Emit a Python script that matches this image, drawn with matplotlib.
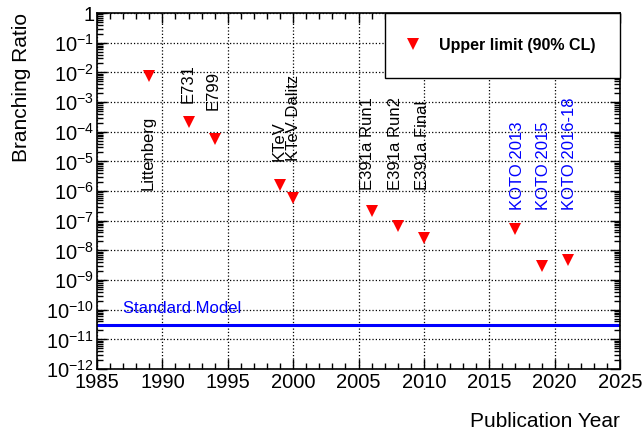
import numpy as np
import matplotlib
matplotlib.use("Agg")
import matplotlib.pyplot as plt
from matplotlib.ticker import FixedLocator, FuncFormatter, LogLocator, NullFormatter

plt.rcParams['font.family'] = ['Liberation Sans', 'DejaVu Sans']
plt.rcParams['mathtext.default'] = 'regular'

# upper limits on the branching ratio, by publication year
years = [1989, 1992, 1994, 1999, 2000, 2006, 2008, 2010, 2017, 2019, 2021]
limits = [7.6e-3, 2.2e-4, 5.8e-5, 1.6e-6, 5.9e-7, 2.1e-7, 6.7e-8, 2.6e-8, 5.1e-8, 3.0e-9, 4.9e-9]
names = ["Littenberg", "E731", "E799", "KTeV", "KTeV Dalitz",
         "E391a Run1", "E391a Run2", "E391a Final",
         "KOTO 2013", "KOTO 2015", "KOTO 2016-18"]
label_base = [1.1e-6, 9.5e-4, 5.4e-4, 1.0e-5, 1.0e-5,
              1.1e-6, 1.1e-6, 1.1e-6, 2.3e-7, 2.3e-7, 2.3e-7]
label_dx = [-0.1, 0.0, -0.1, -0.1, 0.0, -0.3, -0.2, -0.1, 0.15, 0.15, 0.15]
label_colors = ["black"] * 8 + ["blue"] * 3
sm_value = 3e-11

fig = plt.figure(figsize=(6.43, 4.32), dpi=100)
ax = fig.add_axes([0.1509, 0.1458, 0.8134, 0.824])

ax.plot(years, limits, linestyle='none', marker='v', color='red',
        markersize=8, markeredgewidth=0, label='Upper limit (90% CL)')
ax.axhline(sm_value, color='blue', linewidth=2.2)
ax.text(1987, 6.3e-11, "Standard Model", color='blue', fontsize=12, va='bottom')

for name, yr, yb, dx, col in zip(names, years, label_base, label_dx, label_colors):
    ax.text(yr + dx, yb, name, rotation=90, ha='center', va='bottom',
            fontsize=12, color=col)

ax.set_yscale('log')
ax.set_xlim(1985, 2025)
ax.set_ylim(1e-12, 1)

ax.xaxis.set_major_locator(FixedLocator(np.arange(1985, 2026, 5)))
ax.xaxis.set_minor_locator(FixedLocator(np.arange(1985, 2026, 1)))
ax.yaxis.set_major_locator(LogLocator(base=10, numticks=20))
ax.yaxis.set_minor_locator(LogLocator(base=10, subs=np.arange(2, 10), numticks=20))
ax.yaxis.set_minor_formatter(NullFormatter())


def fmt_log(v, pos):
    e = int(round(np.log10(v)))
    if e == 0:
        return "1"
    return r"$10^{%d}$" % e


ax.yaxis.set_major_formatter(FuncFormatter(fmt_log))

ax.tick_params(axis='both', which='both', direction='in', top=True, right=True,
               labelsize=14.5, width=1)
ax.tick_params(axis='both', which='major', length=7)
ax.tick_params(axis='both', which='minor', length=4)
ax.tick_params(axis='x', pad=3)
ax.tick_params(axis='y', pad=2)

ax.grid(True, which='major', linestyle=':', color='black', linewidth=0.9)
for s in ax.spines.values():
    s.set_linewidth(1.2)

ax.set_ylabel("Branching Ratio", fontsize=15, loc='top', labelpad=11)
ax.set_xlabel("Publication Year", fontsize=15, loc='right', labelpad=14)

leg = ax.legend(loc='upper right', bbox_to_anchor=(1.0, 1.0), borderaxespad=0,
                fancybox=False, edgecolor='black', framealpha=1,
                prop={'weight': 'bold', 'size': 11.5}, borderpad=1.55,
                handlelength=0.4, handletextpad=1.4, numpoints=1)
leg.get_frame().set_linewidth(1.0)

fig.savefig("out.png", dpi=100)
